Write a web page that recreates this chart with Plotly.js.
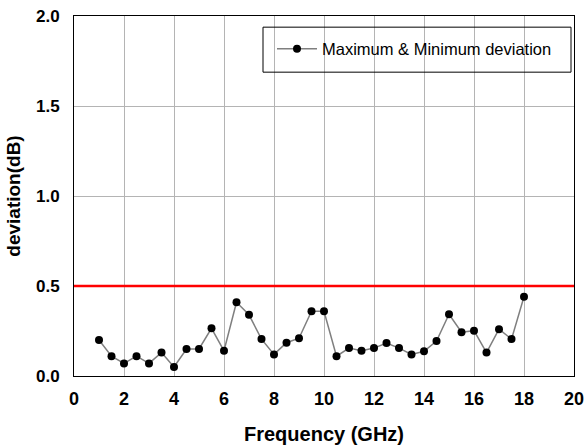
<!DOCTYPE html>
<html>
<head>
<meta charset="utf-8">
<script src="https://cdn.plot.ly/plotly-3.0.1.min.js"></script>
<style>html,body{margin:0;padding:0;background:#fff;}#chart{width:587px;height:447px;}</style>
</head>
<body>
<div id="chart"></div>
<script>
var frequency = [1, 1.5, 2, 2.5, 3, 3.5, 4, 4.5, 5, 5.5, 6, 6.5, 7, 7.5, 8, 8.5, 9, 9.5, 10,
  10.5, 11, 11.5, 12, 12.5, 13, 13.5, 14, 14.5, 15, 15.5, 16, 16.5, 17, 17.5, 18];
var deviation = [0.20, 0.11, 0.07, 0.11, 0.07, 0.13, 0.05, 0.15, 0.15, 0.265, 0.14, 0.41, 0.34, 0.205, 0.12, 0.185, 0.21, 0.36, 0.36,
  0.11, 0.155, 0.14, 0.155, 0.183, 0.155, 0.12, 0.137, 0.194, 0.343, 0.243, 0.252, 0.13, 0.26, 0.205, 0.44];
var limitValue = 0.5;
var seriesName = "Maximum & Minimum deviation";
var xTicks = [0, 2, 4, 6, 8, 10, 12, 14, 16, 18, 20];
var yTicks = [0, 0.5, 1.0, 1.5, 2.0];
var yTickText = ["0.0", "0.5", "1.0", "1.5", "2.0"];

var trace = {
  x: frequency, y: deviation, type: "scatter", mode: "lines+markers",
  name: seriesName,
  line: {color: "#7f7f7f", width: 1.5},
  marker: {color: "#000000", size: 8, symbol: "circle"}
};

var layout = {
  width: 587, height: 447,
  margin: {l: 74, r: 13, t: 16, b: 71},
  paper_bgcolor: "#ffffff", plot_bgcolor: "#ffffff",
  font: {family: "Liberation Sans, Arial, sans-serif", color: "#000"},
  xaxis: {
    range: [0, 20], tickvals: xTicks, ticktext: xTicks.map(String),
    showgrid: true, gridcolor: "#b4b4b4", gridwidth: 1,
    showline: true, linecolor: "#000", linewidth: 1, mirror: true,
    ticks: "", zeroline: false, ticklabelstandoff: 6,
    tickfont: {size: 18, family: "Liberation Sans, Arial, sans-serif", weight: "bold"},
    title: {text: "<b>Frequency (GHz)</b>", font: {size: 20}, standoff: 19}
  },
  yaxis: {
    range: [0, 2], tickvals: yTicks, ticktext: yTickText,
    showgrid: true, gridcolor: "#b4b4b4", gridwidth: 1,
    showline: true, linecolor: "#000", linewidth: 1, mirror: true,
    ticks: "", zeroline: false, ticklabelstandoff: 10,
    tickfont: {size: 17, family: "Liberation Sans, Arial, sans-serif", weight: "bold"},
    title: {text: "<b>deviation(dB)</b>", font: {size: 19}, standoff: 10}
  },
  shapes: [
    {type: "line", xref: "x", yref: "y", x0: 0, x1: 20, y0: limitValue, y1: limitValue,
     line: {color: "#ff0000", width: 2.5}},
    {type: "rect", xref: "paper", yref: "paper", x0: 0.378, x1: 0.994, y0: 0.844, y1: 0.969,
     line: {color: "#000", width: 1}, fillcolor: "rgba(0,0,0,0)", layer: "above"}
  ],
  showlegend: true,
  legend: {
    x: 0.396, xanchor: "left", y: 0.908, yanchor: "middle",
    bgcolor: "rgba(0,0,0,0)", borderwidth: 0, itemwidth: 40,
    font: {size: 16.5, family: "Liberation Sans, Arial, sans-serif"}
  }
};

Plotly.newPlot("chart", [trace], layout, {displayModeBar: false, staticPlot: true});
</script>
</body>
</html>
